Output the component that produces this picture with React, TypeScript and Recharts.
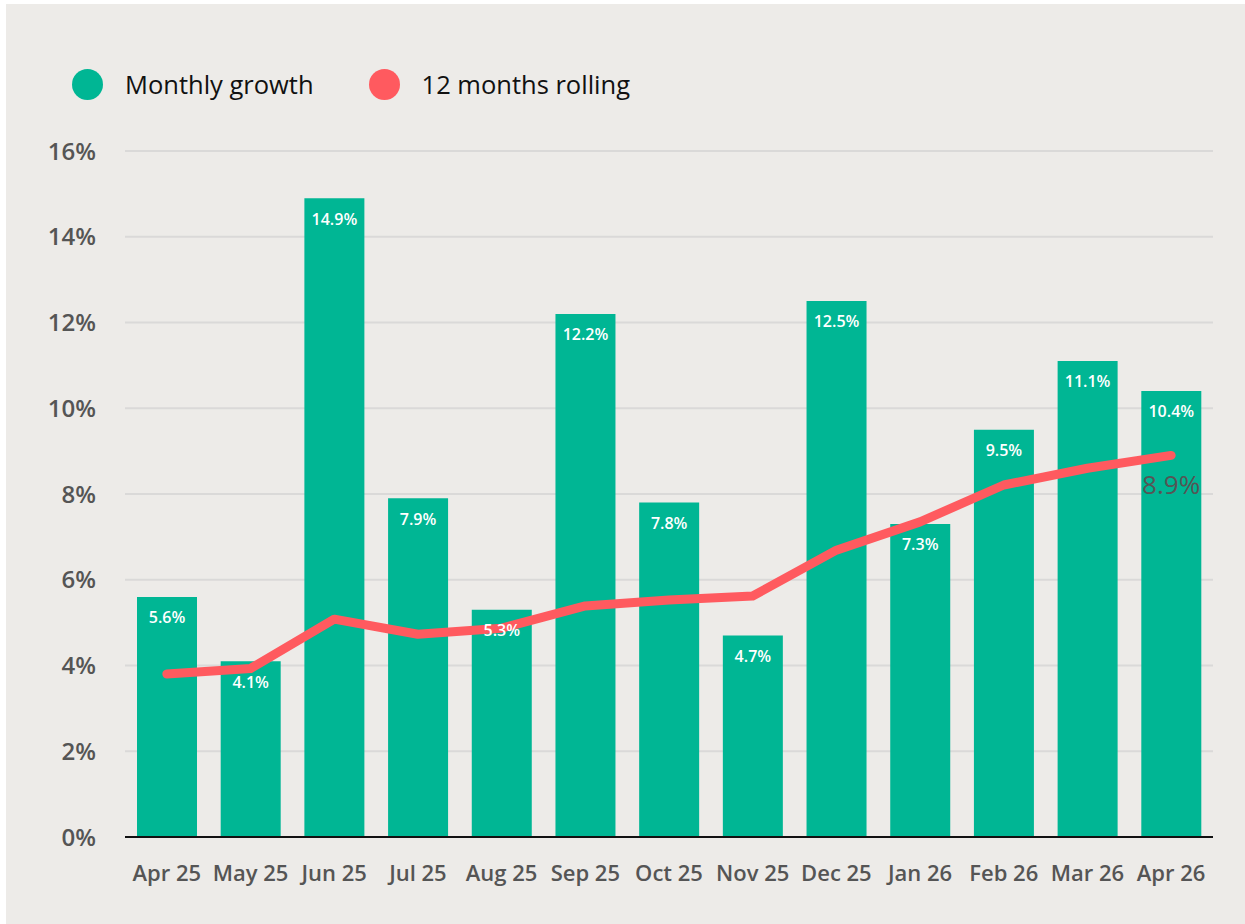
import React from 'react';
import {
  ComposedChart,
  Bar,
  Line,
  XAxis,
  YAxis,
  CartesianGrid,
  Legend,
  LabelList,
} from 'recharts';

const months = ['Apr 25', 'May 25', 'Jun 25', 'Jul 25', 'Aug 25', 'Sep 25', 'Oct 25', 'Nov 25', 'Dec 25', 'Jan 26', 'Feb 26', 'Mar 26', 'Apr 26'];
const monthlyGrowth = [5.6, 4.1, 14.9, 7.9, 5.3, 12.2, 7.8, 4.7, 12.5, 7.3, 9.5, 11.1, 10.4];
const rolling12 = [3.8, 3.93, 5.08, 4.73, 4.87, 5.39, 5.53, 5.62, 6.69, 7.35, 8.21, 8.6, 8.9];
const yTicks = [0, 2, 4, 6, 8, 10, 12, 14, 16];

const GREEN = '#00B694';
const RED = '#FF5A5F';
const FONT = "'Open Sans', 'Noto Sans', sans-serif";

const data = months.map((m, i) => ({
  month: m,
  monthly: monthlyGrowth[i],
  rolling: rolling12[i],
  endLabel: i === months.length - 1 ? rolling12[i] : null,
}));

const legendItems = [
  { name: 'Monthly growth', color: GREEN },
  { name: '12 months rolling', color: RED },
];

const renderLegend = () => (
  <div style={{ height: 82, paddingLeft: 66, fontFamily: FONT, boxSizing: 'border-box' }}>
    <div style={{ display: 'flex', alignItems: 'center', height: 31 }}>
      {legendItems.map((it, i) => (
        <div key={it.name} style={{ display: 'flex', alignItems: 'center', marginRight: i === 0 ? 55 : 0 }}>
          <div style={{ width: 31, height: 31, borderRadius: '50%', background: it.color, marginRight: 22 }} />
          <span style={{ fontSize: 25.5, color: '#111', lineHeight: '31px', whiteSpace: 'nowrap' }}>{it.name}</span>
        </div>
      ))}
    </div>
  </div>
);

export default function App() {
  return (
    <div style={{ position: 'absolute', left: 6, top: 4, width: 1239, height: 920, background: '#EDEBE8' }}>
      <ComposedChart
        width={1239}
        height={920}
        data={data}
        margin={{ top: 65, right: 32, bottom: 27, left: 0 }}
        barSize={60}
      >
        <Legend verticalAlign="top" align="left" content={renderLegend} />
        <CartesianGrid vertical={false} stroke="#DAD9D8" strokeWidth={2} />
        <XAxis
          dataKey="month"
          interval={0}
          tickLine={false}
          tickSize={0}
          tickMargin={28}
          height={60}
          axisLine={{ stroke: '#111', strokeWidth: 2 }}
          tick={{ fill: '#555', fontSize: 22, fontWeight: 600, fontFamily: FONT }}
        />
        <YAxis
          domain={[0, 16]}
          ticks={yTicks}
          interval={0}
          width={119}
          axisLine={false}
          tickLine={false}
          tickSize={0}
          tickMargin={29}
          tickFormatter={(v: number) => `${v}%`}
          tick={{ fill: '#555', fontSize: 24, fontWeight: 600, fontFamily: FONT }}
        />
        <Bar dataKey="monthly" fill={GREEN} isAnimationActive={false}>
          <LabelList
            dataKey="monthly"
            position="insideTop"
            offset={15}
            fill="#fff"
            fontSize={16}
            fontWeight={600}
            fontFamily={FONT}
            formatter={(v: number) => `${v.toFixed(1)}%`}
          />
        </Bar>
        <Line
          dataKey="rolling"
          type="linear"
          stroke={RED}
          strokeWidth={9}
          strokeLinecap="round"
          strokeLinejoin="round"
          dot={false}
          activeDot={false}
          isAnimationActive={false}
        >
          <LabelList
            dataKey="endLabel"
            position="bottom"
            offset={20}
            fill="#555"
            fontSize={26}
            fontFamily={FONT}
            formatter={(v: number) => (v == null ? '' : `${v.toFixed(1)}%`)}
          />
        </Line>
      </ComposedChart>
    </div>
  );
}
